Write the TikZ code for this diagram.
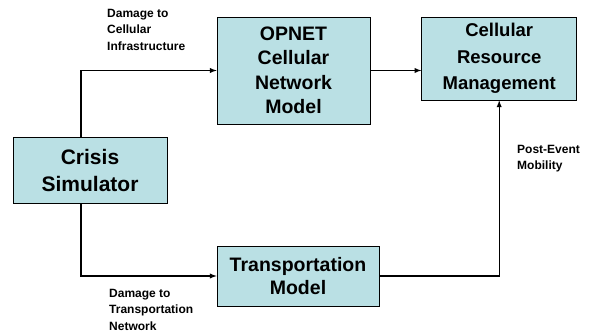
\documentclass[tikz,border=0pt]{standalone}
\usepackage{fontspec}
\setmainfont{Liberation Sans}
\usepackage{tikz}
\usepackage{xcolor}
\usetikzlibrary{shapes,arrows,positioning,shapes.geometric}

\definecolor{boxfill}{RGB}{186,224,228}

\begin{document}
\begin{tikzpicture}[
        block/.style={rectangle, draw=black, line width=0.7pt, fill=boxfill, inner sep=0pt, align=center, font=\bfseries\fontsize{19.5}{24.5}\selectfont},
        tag/.style={inner sep=0pt, align=left, anchor=north west, font=\bfseries\fontsize{12}{16.5}\selectfont},
        line/.style={draw, -latex, line width=1.3pt}
    ]
        \useasboundingbox (0,0) rectangle (589pt,-336pt);

        % Models
        \node[block, minimum width=154pt, minimum height=66pt, font=\bfseries\fontsize{21}{27}\selectfont] (crisis) at (90pt,-170pt) {Crisis\\Simulator};
        \node[block, minimum width=153pt, minimum height=107pt] (opnet) at (293.5pt,-70.5pt) {OPNET\\Cellular\\Network\\Model};
        \node[block, minimum width=155pt, minimum height=83pt, font=\bfseries\fontsize{18.5}{26.5}\selectfont] (crm) [right=51pt of opnet.north east, anchor=north west] {Cellular\\Resource\\Management};
        \node[block, minimum width=162pt, minimum height=60pt, font=\bfseries\fontsize{19.5}{23}\selectfont] (transport) at (298pt,-276pt) {Transportation\\Model};

        % Labels
        \node[tag] (cellinfra) at (107pt,-9pt) {Damage to\\Cellular\\Infrastructure};
        \node[tag] (transnet) at (109pt,-289pt) {Damage to\\Transportation\\Network};
        \node[tag] (mobility) at (517pt,-145pt) {Post-Event\\Mobility};

        % Connections
        \draw[line] ([xshift=-9pt]crisis.north) |- (opnet);
        \draw[line] ([xshift=-9pt]crisis.south) |- (transport);
        \draw[line] (opnet.east) -- (opnet.east -| crm.west);
        \draw[line] (transport) -| (crm);
    \end{tikzpicture}
\end{document}
